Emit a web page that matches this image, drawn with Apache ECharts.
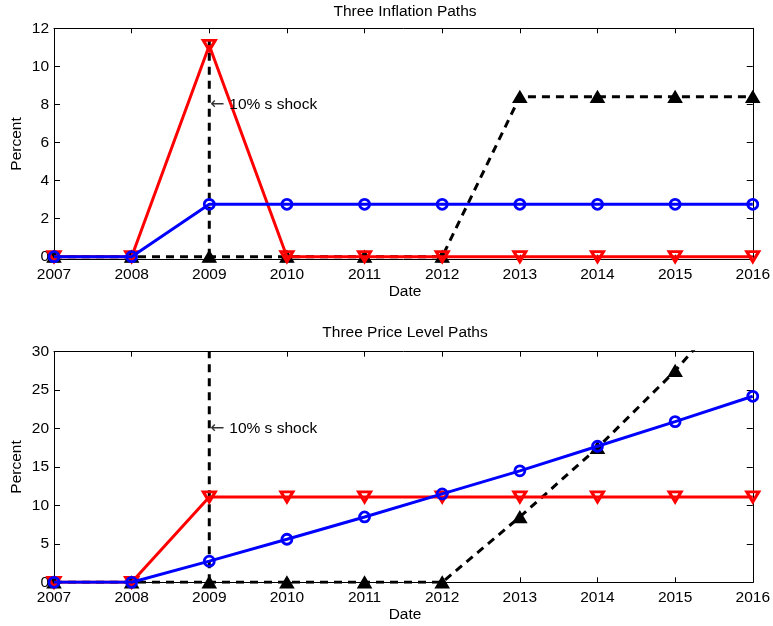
<!DOCTYPE html>
<html>
<head>
<meta charset="utf-8">
<script src="https://cdn.jsdelivr.net/npm/echarts@6/dist/echarts.min.js"></script>
<style>
  html, body { margin: 0; padding: 0; background: #ffffff; }
  #chart { width: 773px; height: 626px; }
</style>
</head>
<body>
<div id="chart"></div>
<script>
// Years on the horizontal axis
const years = [2007, 2008, 2009, 2010, 2011, 2012, 2013, 2014, 2015, 2016];

// Inflation paths (percent)
const inflationSmooth = [0, 0, 2.75, 2.75, 2.75, 2.75, 2.75, 2.75, 2.75, 2.75];
const inflationDelayed = [0, 0, 0, 0, 0, 0, 8.4, 8.4, 8.4, 8.4];
const inflationOnce = [0, 0, 11.1, 0, 0, 0, 0, 0, 0, 0];

// Price level paths (percent)
const priceSmooth = [0, 0, 2.75, 5.6, 8.5, 11.5, 14.5, 17.7, 20.9, 24.2];
const priceDelayed = [0, 0, 0, 0, 0, 0, 8.5, 17.5, 27.5, 39];
const priceOnce = [0, 0, 11.1, 11.1, 11.1, 11.1, 11.1, 11.1, 11.1, 11.1];

// Shock marker: year and vertical extent in each panel
const shockYear = 2009;
const shockSpanInflation = [0, 11.4];
const shockSpanPrice = [0, 30];
const shockLabelText = '10% s shock';
const shockLabelInflation = 8;
const shockLabelPrice = 20;

// Tick labels
const inflationTicks = [0, 2, 4, 6, 8, 10, 12];
const priceTicks = [0, 5, 10, 15, 20, 25, 30];

const FONT = 'Liberation Sans, Arial, sans-serif';
const FS = 15.5;
const LW = 3;

const pairs = (vals) => vals.map((v, i) => [years[i], v]);

const grids = [
  { left: 54, top: 28.3, width: 702, height: 231.4 },
  { left: 54, top: 351.7, width: 702, height: 230.6 }
];

function xAxes(gridIndex) {
  const base = {
    gridIndex, type: 'value', min: 2007, max: 2016, interval: 1,
    axisLine: { show: true, onZero: false, lineStyle: { color: '#000', width: 1 } },
    splitLine: { show: false },
    axisTick: { show: true, inside: true, length: 5, lineStyle: { color: '#000' } }
  };
  return [
    Object.assign({}, base, {
      position: 'bottom',
      axisLabel: { show: true, color: '#000', fontFamily: FONT, fontSize: FS, margin: 7,
        formatter: (v) => String(v) }
    }),
    Object.assign({}, base, { position: 'top', axisLabel: { show: false } })
  ];
}

function yAxes(gridIndex, min, max, ticks) {
  const base = {
    gridIndex, type: 'value', min, max,
    axisLine: { show: true, onZero: false, lineStyle: { color: '#000', width: 1 } },
    splitLine: { show: false },
    axisTick: { show: true, inside: true, length: 6, customValues: ticks, lineStyle: { color: '#000' } }
  };
  return [
    Object.assign({}, base, {
      position: 'left',
      axisLabel: { show: true, color: '#000', fontFamily: FONT, fontSize: FS, margin: 5,
        customValues: ticks }
    }),
    Object.assign({}, base, { position: 'right', axisLabel: { show: false } })
  ];
}

function shockLine(xi, yi, span) {
  return {
    type: 'line', xAxisIndex: xi, yAxisIndex: yi, z: 1,
    data: span.map((v) => [shockYear, v]),
    symbol: 'none', silent: true,
    lineStyle: { color: '#000', width: LW, type: [8, 6] }
  };
}

function delayedSeries(xi, yi, vals) {
  return {
    type: 'line', xAxisIndex: xi, yAxisIndex: yi, z: 2,
    data: pairs(vals),
    symbol: 'triangle', symbolSize: [13, 11],
    itemStyle: { color: '#000', borderColor: '#000', borderWidth: 1.5 },
    lineStyle: { color: '#000', width: LW, type: [8, 6] }
  };
}

function onceSeries(xi, yi, vals) {
  return {
    type: 'line', xAxisIndex: xi, yAxisIndex: yi, z: 3,
    data: pairs(vals),
    symbol: 'triangle', symbolRotate: 180, symbolSize: [12, 10],
    itemStyle: { color: 'rgba(255,255,255,0)', borderColor: '#ff0000', borderWidth: 3 },
    lineStyle: { color: '#ff0000', width: LW }
  };
}

function smoothSeries(xi, yi, vals) {
  return {
    type: 'line', xAxisIndex: xi, yAxisIndex: yi, z: 4,
    data: pairs(vals),
    symbol: 'circle', symbolSize: 10,
    itemStyle: { color: 'rgba(255,255,255,0)', borderColor: '#0000ff', borderWidth: 2.8 },
    lineStyle: { color: '#0000ff', width: LW }
  };
}

function annotation(xi, yi, yVal) {
  return {
    type: 'scatter', xAxisIndex: xi, yAxisIndex: yi, z: 5,
    data: [[shockYear, yVal]],
    symbol: 'circle', symbolSize: 0,
    itemStyle: { color: '#000', opacity: 1 },
    silent: true,
    label: {
      show: true, position: 'right', distance: 1,
      formatter: '{arrow|\u2190}' + shockLabelText,
      color: '#000', fontFamily: FONT, fontSize: FS,
      rich: {
        arrow: { fontFamily: 'DejaVu Sans', fontSize: 17, color: '#333',
          width: 19, align: 'left' }
      }
    }
  };
}

function text(str, x, y, rotate) {
  return {
    type: 'text', x, y, rotation: rotate ? Math.PI / 2 : 0,
    style: {
      text: str, fill: '#000', font: FS + 'px ' + FONT,
      textAlign: 'center', textVerticalAlign: 'middle'
    }
  };
}

const option = {
  backgroundColor: '#ffffff',
  animation: false,
  grid: grids,
  xAxis: [].concat(xAxes(0), xAxes(1)),
  yAxis: [].concat(
    yAxes(0, -0.16, 12, inflationTicks),
    yAxes(1, 0, 30, priceTicks)
  ),
  series: [
    shockLine(0, 0, shockSpanInflation),
    delayedSeries(0, 0, inflationDelayed),
    onceSeries(0, 0, inflationOnce),
    smoothSeries(0, 0, inflationSmooth),
    annotation(0, 0, shockLabelInflation),

    shockLine(2, 2, shockSpanPrice),
    delayedSeries(2, 2, priceDelayed),
    onceSeries(2, 2, priceOnce),
    smoothSeries(2, 2, priceSmooth),
    annotation(2, 2, shockLabelPrice)
  ],
  graphic: [
    text('Three Inflation Paths', 405, 12),
    text('Three Price Level Paths', 405, 333),
    text('Date', 405, 292),
    text('Date', 405, 615),
    text('Percent', 17, 144, true),
    text('Percent', 17, 467, true)
  ]
};

const chart = echarts.init(document.getElementById('chart'), null, { renderer: 'canvas' });
chart.setOption(option);
</script>
</body>
</html>
